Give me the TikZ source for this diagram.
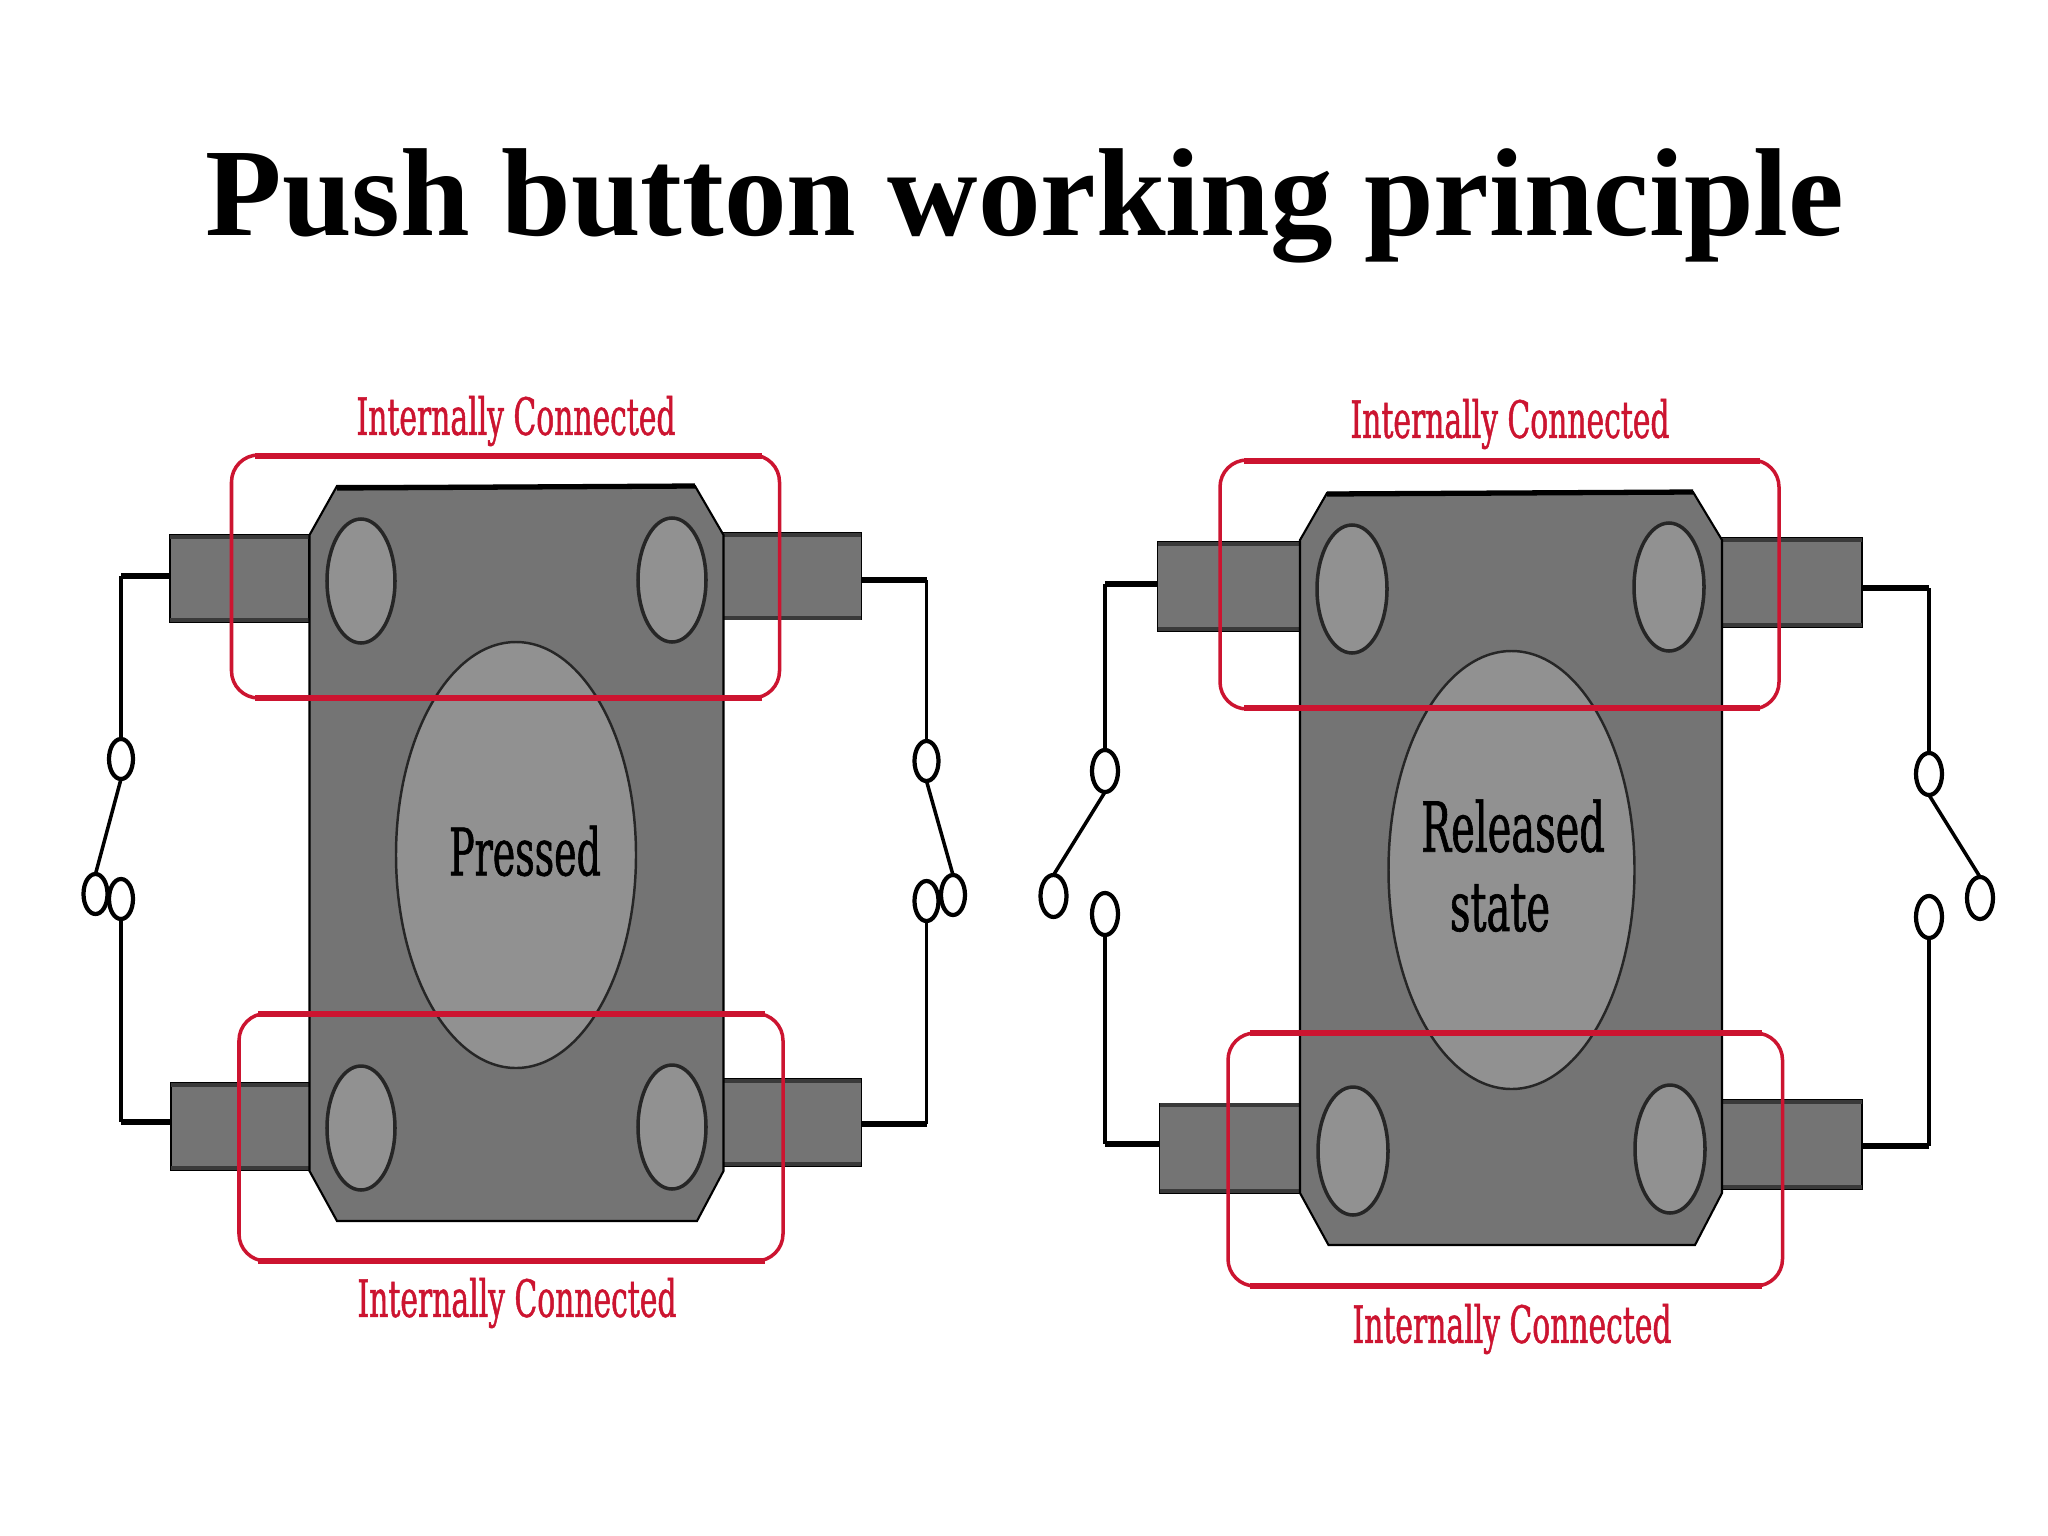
\documentclass[tikz,border=0pt]{standalone}
\usepackage{fontspec}
\usetikzlibrary{shapes.geometric}
\setmainfont{Liberation Serif}
\newfontfamily\slabfont[FakeStretch=0.58,FakeBold=0.9]{DejaVu Serif}
\definecolor{bodygrey}{HTML}{747474}
\definecolor{capgrey}{HTML}{919191}
\definecolor{edgegrey}{HTML}{3A3A3A}
\definecolor{boxred}{HTML}{CC1430}
\tikzset{
  x=0.01cm,y=-0.01cm,
  termbox/.style={draw=black,line width=0.5pt,fill=bodygrey,inner sep=0,outer sep=0,minimum width=139*0.01cm,minimum height=87*0.01cm},
  termedge/.style={draw=edgegrey,line width=1.1pt},
  bodyshape/.style={draw=black,line width=0.6pt,fill=bodygrey},
  bodyedge/.style={draw=black,line width=1.5pt},
  holeshape/.style={ellipse,draw=black!85,line width=1pt,fill=capgrey,inner sep=0,outer sep=0,minimum width=68*0.01cm,minimum height=124*0.01cm},
  capshape/.style={ellipse,draw=black!85,line width=0.7pt,fill=capgrey,inner sep=0,outer sep=0},
  contact/.style={ellipse,draw=black,line width=1.2pt,fill=white,inner sep=0,outer sep=0,minimum width=24*0.01cm,minimum height=40*0.01cm},
  wirev/.style={draw=black,line width=1pt},
  wireh/.style={draw=black,line width=1.5pt},
  redbox/.style={draw=boxred,line width=1pt,rounded corners=0.27cm},
  rededge/.style={draw=boxred,line width=1.5pt},
  redlabel/.style={text=boxred,font=\slabfont\fontsize{14.6}{16}\selectfont,inner sep=0},
  statelabel/.style={text=black,font=\slabfont\fontsize{18.6}{21}\selectfont,inner sep=0},
}
\begin{document}
\begin{tikzpicture}
\useasboundingbox (0,0) rectangle (2048,1536);
\fill[white] (0,0) rectangle (2048,1536);
\node[anchor=base,inner sep=0,font=\bfseries\fontsize{35.6}{40}\selectfont] (title) at (1025,235) {Push button working principle};

% ---------- left device ----------
\node[termbox] (ltl) at (239.5,578.5) {};
\node[termbox] (ltr) at (792,576) {};
\node[termbox] (lbl) at (240.5,1126.5) {};
\node[termbox] (lbr) at (792,1122.5) {};
\draw[termedge] (170,537) -- (309,537);
\draw[termedge] (724,535) -- (861,535);
\draw[termedge] (170,620) -- (309,620);
\draw[termedge] (724,618) -- (861,618);
\draw[termedge] (171,1085) -- (309,1085);
\draw[termedge] (724,1081) -- (861,1081);
\draw[termedge] (171,1168) -- (309,1168);
\draw[termedge] (724,1164) -- (861,1164);
\draw[bodyshape] (337,486) -- (695,486) -- (723.5,535) -- (723.5,1171) -- (697,1221) -- (337,1221) -- (309.5,1171) -- (309.5,535) -- cycle;
\draw[bodyedge] (337,488) -- (695,486);
\node[holeshape] (lh1) at (361,581) {};
\node[holeshape] (lh2) at (672,580) {};
\node[holeshape] (lh3) at (361,1128) {};
\node[holeshape] (lh4) at (672,1127) {};
\node[capshape,minimum width=240*0.01cm,minimum height=426*0.01cm] (lcap) at (516,855) {};
\node[statelabel] (lpress) at (525,851) {Pressed};
\draw[redbox] (231.5,455) rectangle (779.5,698);
\draw[redbox] (239,1013.5) rectangle (783,1261);
\draw[rededge] (255,456) -- (762,456);
\draw[rededge] (255,698) -- (762,698);
\draw[rededge] (258,1014) -- (765,1014);
\draw[rededge] (258,1261) -- (765,1261);
\node[redlabel] (ltop) at (516,421) {Internally Connected};
\node[redlabel] (lbot) at (517,1303) {Internally Connected};
% switches
\node[contact] (la) at (121,759) {};
\node[contact] (lb) at (95.5,894) {};
\node[contact] (lc) at (121,899) {};
\node[contact] (ra) at (926.5,761) {};
\node[contact] (rb) at (953,895) {};
\node[contact] (rc) at (926.5,901) {};
\coordinate (lwa) at (170,576);
\coordinate (lwb) at (170,1122);
\coordinate (lwc) at (861,580);
\coordinate (lwd) at (861,1124);
\draw[wireh] (lwa) -- (lwa -| la);
\draw[wirev] (lwa -| la) -- (la.north);
\draw[wirev] (la.south) -- (lb.north);
\draw[wirev] (lc.south) -- (lc |- lwb);
\draw[wireh] (lc |- lwb) -- (lwb);
\draw[wireh] (lwc) -- (lwc -| ra);
\draw[wirev] (lwc -| ra) -- (ra.north);
\draw[wirev] (ra.south) -- (rb.north);
\draw[wirev] (rc.south) -- (rc |- lwd);
\draw[wireh] (rc |- lwd) -- (lwd);

% ---------- right device ----------
\node[termbox,minimum width=142.5*0.01cm,minimum height=89*0.01cm] (rtl) at (1228.75,586.5) {};
\node[termbox,minimum width=140*0.01cm,minimum height=89*0.01cm] (rtr) at (1792,582.5) {};
\node[termbox,minimum width=140.5*0.01cm,minimum height=89.5*0.01cm] (rbl) at (1229.75,1148.25) {};
\node[termbox,minimum width=140*0.01cm,minimum height=89*0.01cm] (rbr) at (1792,1144.5) {};
\draw[termedge] (1157.5,544) -- (1300,544);
\draw[termedge] (1722,540) -- (1862,540);
\draw[termedge] (1157.5,629) -- (1300,629);
\draw[termedge] (1722,625) -- (1862,625);
\draw[termedge] (1159.5,1105) -- (1300,1105);
\draw[termedge] (1722,1102) -- (1862,1102);
\draw[termedge] (1159.5,1191) -- (1300,1191);
\draw[termedge] (1722,1187) -- (1862,1187);
\draw[bodyshape] (1327,493) -- (1693,492) -- (1722,540) -- (1722,1193) -- (1695,1245) -- (1328.5,1245) -- (1300,1193) -- (1300,540) -- cycle;
\draw[bodyedge] (1327,494) -- (1693,492);
\node[holeshape,minimum width=70*0.01cm,minimum height=128*0.01cm] (rh1) at (1352,589) {};
\node[holeshape,minimum width=70*0.01cm,minimum height=128*0.01cm] (rh2) at (1669,587) {};
\node[holeshape,minimum width=70*0.01cm,minimum height=128*0.01cm] (rh3) at (1353,1151) {};
\node[holeshape,minimum width=70*0.01cm,minimum height=128*0.01cm] (rh4) at (1670,1149) {};
\node[capshape,minimum width=246*0.01cm,minimum height=438*0.01cm] (rcap) at (1511.5,870) {};
\node[statelabel,font=\slabfont\fontsize{19.6}{22}\selectfont] (rrel) at (1513,826) {Released};
\node[statelabel,font=\slabfont\fontsize{19.6}{22}\selectfont] (rstate) at (1500,908) {state};
\draw[redbox] (1220,460) rectangle (1779,709);
\draw[redbox] (1228,1033) rectangle (1782.5,1286);
\draw[rededge] (1244,461) -- (1760,461);
\draw[rededge] (1244,708) -- (1760,708);
\draw[rededge] (1250,1033) -- (1762,1033);
\draw[rededge] (1250,1286) -- (1762,1286);
\node[redlabel] (rtop) at (1510,424) {Internally Connected};
\node[redlabel] (rbot) at (1512,1329) {Internally Connected};
% switches
\node[contact,minimum width=26*0.01cm,minimum height=42*0.01cm] (sa) at (1105,771) {};
\node[contact,minimum width=26*0.01cm,minimum height=42*0.01cm] (sb) at (1053.5,896) {};
\node[contact,minimum width=26*0.01cm,minimum height=42*0.01cm] (sc) at (1105,914) {};
\node[contact,minimum width=26*0.01cm,minimum height=42*0.01cm] (ta) at (1929,774) {};
\node[contact,minimum width=26*0.01cm,minimum height=42*0.01cm] (tb) at (1980,898) {};
\node[contact,minimum width=26*0.01cm,minimum height=42*0.01cm] (tc) at (1929,917) {};
\coordinate (rwa) at (1157.5,584);
\coordinate (rwb) at (1159.5,1144);
\coordinate (rwc) at (1862,588);
\coordinate (rwd) at (1862,1146);
\draw[wireh] (rwa) -- (rwa -| sa);
\draw[wirev] (rwa -| sa) -- (sa.north);
\draw[wirev] (sa.south) -- (sb.north);
\draw[wirev] (sc.south) -- (sc |- rwb);
\draw[wireh] (sc |- rwb) -- (rwb);
\draw[wireh] (rwc) -- (rwc -| ta);
\draw[wirev] (rwc -| ta) -- (ta.north);
\draw[wirev] (ta.south) -- (tb.north);
\draw[wirev] (tc.south) -- (tc |- rwd);
\draw[wireh] (tc |- rwd) -- (rwd);
\end{tikzpicture}
\end{document}
